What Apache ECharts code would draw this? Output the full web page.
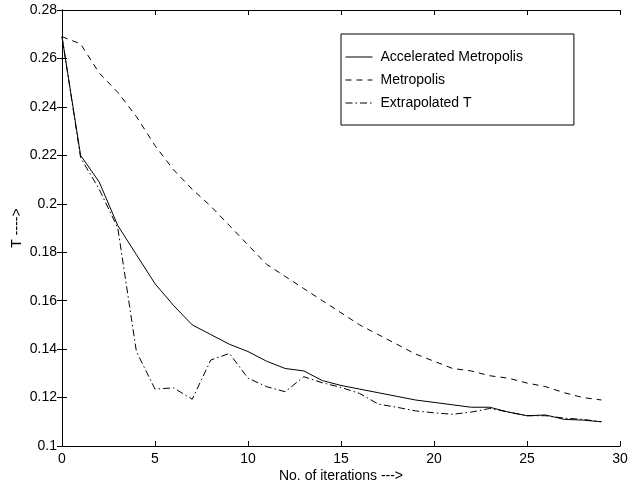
<!DOCTYPE html>
<html><head><meta charset="utf-8">
<script src="https://cdn.jsdelivr.net/npm/echarts@6/dist/echarts.min.js"></script>
<style>html,body{margin:0;padding:0;background:#fff}#c{width:637px;height:483px}</style>
</head><body><div id="c"></div>
<script>
const iterations = [0,1,2,3,4,5,6,7,8,9,10,11,12,13,14,15,16,17,18,19,20,21,22,23,24,25,26,27,28,29];
const accelerated = [0.269,0.220,0.209,0.191,0.179,0.167,0.158,0.150,0.146,0.142,0.139,0.135,0.132,0.131,0.127,0.125,0.1235,0.122,0.1205,0.119,0.118,0.117,0.116,0.116,0.114,0.1125,0.1128,0.111,0.1107,0.110];
const metropolis = [0.269,0.266,0.254,0.246,0.236,0.224,0.214,0.206,0.199,0.191,0.183,0.175,0.170,0.165,0.160,0.155,0.150,0.146,0.142,0.138,0.135,0.132,0.131,0.129,0.128,0.126,0.1245,0.122,0.120,0.119];
const extrapolated = [0.269,0.219,0.206,0.190,0.139,0.1235,0.124,0.1193,0.1355,0.1382,0.128,0.1245,0.1224,0.1286,0.1261,0.1242,0.1217,0.1173,0.116,0.1145,0.1137,0.1131,0.114,0.1155,0.114,0.1125,0.1125,0.1115,0.111,0.110];
const seriesNames = ['Accelerated Metropolis','Metropolis','Extrapolated T'];

const pairs = ys => iterations.map((x,i)=>[x, ys[i]]);
const font = 'Liberation Sans, Arial, sans-serif';
const chart = echarts.init(document.getElementById('c'));
const axisCommon = {
  axisLine:{show:true,lineStyle:{color:'#000',width:1}},
  axisTick:{show:true,inside:true,length:5,lineStyle:{color:'#000'}},
  splitLine:{show:false}
};
chart.setOption({
  animation:false,
  backgroundColor:'#fff',
  grid:{left:62,right:17,top:10,bottom:37,containLabel:false,outerBoundsMode:'none'},
  legend:{
    orient:'vertical', left:341, top:34,
    padding:[16,51,15,4], itemGap:9, itemWidth:27, itemHeight:14,
    borderColor:'#000', borderWidth:1, backgroundColor:'#fff',
    itemStyle:{opacity:0},
    lineStyle:{width:1},
    textStyle:{fontFamily:font,fontSize:14,lineHeight:14,color:'#000',padding:[0,0,0,3]},
    data:seriesNames
  },
  xAxis:[
    Object.assign({type:'value',min:0,max:30,interval:5,position:'bottom',
      name:'No. of iterations --->',nameLocation:'middle',nameGap:23,nameMoveOverlap:false,
      nameTextStyle:{fontFamily:font,fontSize:14,color:'#000'},
      axisLabel:{fontFamily:font,fontSize:14,color:'#000',margin:6}},axisCommon),
    Object.assign({type:'value',min:0,max:30,interval:5,position:'top',axisLabel:{show:false}},axisCommon)
  ],
  yAxis:[
    Object.assign({type:'value',min:0.1,max:0.28,interval:0.02,position:'left',
      name:'T ---->',nameLocation:'middle',nameGap:38,nameRotate:90,nameMoveOverlap:false,
      nameTextStyle:{fontFamily:font,fontSize:14,color:'#000'},
      axisLabel:{fontFamily:font,fontSize:14,color:'#000',margin:5}},axisCommon),
    Object.assign({type:'value',min:0.1,max:0.28,interval:0.02,position:'right',axisLabel:{show:false}},axisCommon)
  ],
  series:[
    {name:seriesNames[0],type:'line',data:pairs(accelerated),symbol:'none',
      lineStyle:{color:'#000',width:1,type:'solid'},itemStyle:{color:'#000'}},
    {name:seriesNames[1],type:'line',data:pairs(metropolis),symbol:'none',
      lineStyle:{color:'#000',width:1,type:[6,5]},itemStyle:{color:'#000'}},
    {name:seriesNames[2],type:'line',data:pairs(extrapolated),symbol:'none',
      lineStyle:{color:'#000',width:1,type:[7,3,1.5,3]},itemStyle:{color:'#000'}}
  ]
});
</script></body></html>
